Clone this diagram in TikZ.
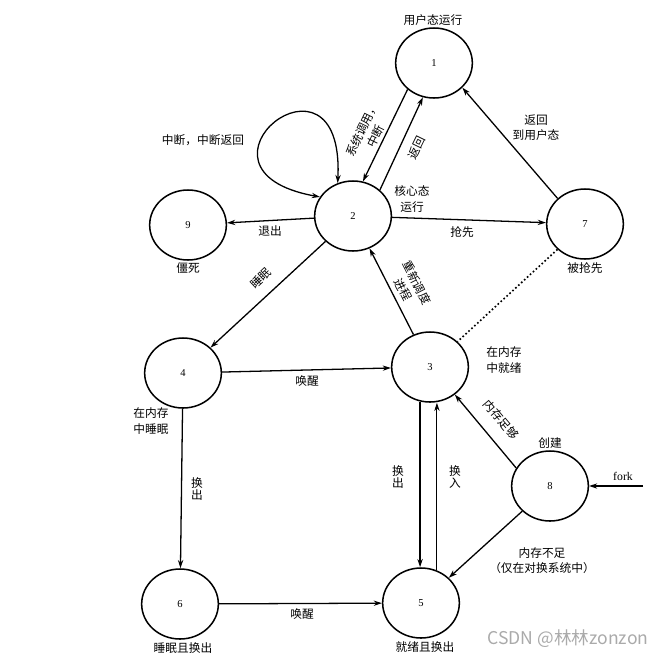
\documentclass[tikz,border=0pt]{standalone}
\usepackage{fontspec}
\setmainfont{Liberation Serif}
\newfontfamily\cjk{Noto Sans CJK SC}
\usetikzlibrary{shapes.geometric, arrows.meta}
\definecolor{markGray}{RGB}{170, 170, 170}

\tikzset{
  state/.style={draw, ellipse, line width=1.3pt, minimum width=2.3cm,
    minimum height=2.1cm, inner sep=0pt, font=\fontsize{9}{10}\selectfont},
  lbl/.style={font=\cjk\fontsize{10}{13}\selectfont, inner sep=0pt},
  edge/.style={line width=1.1pt},
  >={Stealth[length=7pt, width=4.5pt]},
}

\begin{document}
\begin{tikzpicture}[x=0.03cm, y=-0.03cm]
  \useasboundingbox (0,0) rectangle (669,658);

  % states
  \node[state] (n1) at (434,63)  {1};
  \node[state] (n2) at (353,216) {2};
  \node[state] (n9) at (188,225) {9};
  \node[state] (n7) at (585,224) {7};
  \node[state] (n4) at (183,373) {4};
  \node[state] (n3) at (430,367) {3};
  \node[state] (n8) at (550,486) {8};
  \node[state] (n6) at (180,604) {6};
  \node[state] (n5) at (421,603) {5};
  \coordinate (fork) at (643,486);

  % state names
  \node[lbl] (t1) at (433,20)  {用户态运行};
  \node[lbl, align=center] (t2) at (412,199) {核心态\\运行};
  \node[lbl] (t9) at (188,268) {僵死};
  \node[lbl] (t7) at (585,268) {被抢先};
  \node[lbl, align=left] (t4) at (151,421) {在内存\\中睡眠};
  \node[lbl, align=left] (t3) at (504,360) {在内存\\中就绪};
  \node[lbl] (t8) at (550,443) {创建};
  \node[lbl] (t6) at (183,648) {睡眠且换出};
  \node[lbl] (t5) at (425,647) {就绪且换出};

  % transitions
  \draw[edge, ->] (n1.225) -- (n2.74);
  \draw[edge, ->] (n2.44) -- (n1.252);
  \draw[edge, ->] (n7.137) -- (n1.319);
  \draw[edge, <->] (n2.150) .. controls (170,170) and (345,30) .. (n2.115);
  \draw[edge, ->] (n2) -- (n9);
  \draw[edge, ->] (n2) -- (n7);
  \draw[edge, ->] (n2) -- (n4);
  \draw[edge, ->] (n3) -- (n2);
  \draw[edge, ->] (n4) -- (n3);
  \draw[edge, ->] (n4) -- (n6);
  \draw[edge, ->] (n6) -- (n5);
  \draw[edge, ->] (n3.254) -- (n3.254 |- n5.north);
  \draw[line width=0.8pt, ->] (n5.64) -- (n5.64 |- n3.south);
  \draw[edge, ->] (n8.152) -- (n3.312);
  \draw[edge, ->] (n8) -- (n5);
  \draw[edge, ->] (fork) -- (n8.east);
  \draw[line width=1.4pt, dotted] (n7) -- (n3);

  % transition labels
  \node[lbl] (l29) at (270,231) {退出};
  \node[lbl] (l27) at (462,232) {抢先};
  \node[lbl] (lloop) at (203,140) {中断，中断返回};
  \node[lbl, align=center, rotate=64] (l12) at (369,133) {系统调用，\\中断};
  \node[lbl, rotate=64] (l21) at (417,148) {返回};
  \node[lbl, align=center] (l71) at (536,128) {返回\\到用户态};
  \node[lbl, rotate=43] (l24) at (261,278) {睡眠};
  \node[lbl, align=center, rotate=-63] (l32) at (410,286) {重新调度\\进程};
  \node[lbl] (l43) at (307,381) {唤醒};
  \node[lbl, align=center, font=\cjk\fontsize{10}{11}\selectfont] (l46) at (197,489) {换\\出};
  \node[lbl, align=center, font=\cjk\fontsize{10}{11}\selectfont] (l35) at (398,477) {换\\出};
  \node[lbl, align=center, font=\cjk\fontsize{10}{11}\selectfont] (l53) at (455,477) {换\\入};
  \node[lbl, rotate=-50] (l83) at (501,420) {内存足够};
  \node[font=\fontsize{10}{12}\selectfont, inner sep=0pt] (lfork) at (623,476) {fork};
  \node[lbl, align=center] (l85) at (542,561) {内存不足\\（仅在对换系统中）};
  \node[lbl] (l65) at (302,614) {唤醒};

  % watermark
  \node[font=\cjk\fontsize{15}{18}\selectfont, text=markGray, inner sep=0pt] (mark) at (568,639) {CSDN @林林zonzon};
\end{tikzpicture}
\end{document}
